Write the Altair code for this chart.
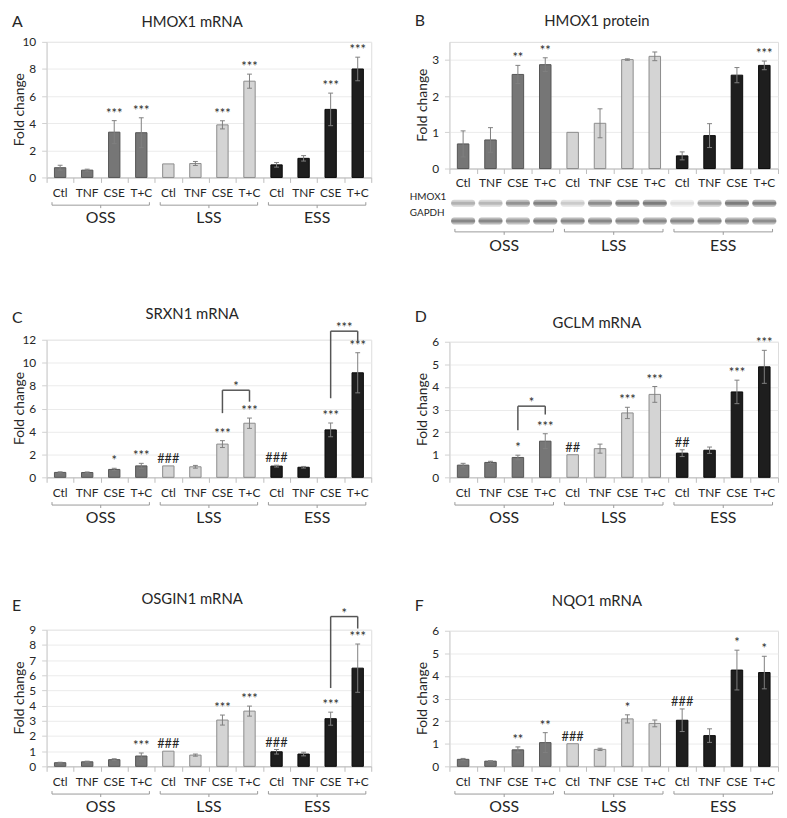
import altair as alt
import pandas as pd

FONT = "Lato"
TXT = "#262626"
ERR = "#808080"
BR = "#9a9a9a"

groups = ["OSS", "LSS", "ESS"]
treatments = ["Ctl", "TNF", "CSE", "T+C"]
group_fill = ["#767676", "#d4d4d4", "#1e1e1e"]
group_stroke = ["#555555", "#8c8c8c", "#0a0a0a"]

# A  HMOX1 mRNA
a_vals = [0.72, 0.54, 3.34, 3.30, 1.00, 1.03, 3.88, 7.10, 0.93, 1.41, 5.02, 8.00]
a_errs = [0.18, 0.07, 0.85, 1.10, 0.00, 0.15, 0.30, 0.52, 0.17, 0.20, 1.20, 0.87]
a_sigs = ["", "", "***", "***", "", "", "***", "***", "", "", "***", "***"]

# B  HMOX1 protein
b_vals = [0.68, 0.79, 2.60, 2.87, 1.00, 1.25, 3.01, 3.10, 0.35, 0.91, 2.58, 2.85]
b_errs = [0.36, 0.34, 0.25, 0.19, 0.00, 0.40, 0.02, 0.12, 0.11, 0.33, 0.21, 0.12]
b_sigs = ["", "", "**", "**", "", "", "", "", "", "", "", "***"]
blot_hmox1 = [0.55, 0.50, 0.80, 0.95, 0.35, 0.85, 1.00, 1.00, 0.20, 0.60, 1.00, 0.95]
blot_gapdh = [0.90, 0.90, 0.80, 0.95, 0.90, 0.90, 0.90, 0.90, 0.90, 0.90, 0.90, 0.85]

# C  SRXN1 mRNA
c_vals = [0.43, 0.42, 0.69, 1.00, 1.00, 0.92, 2.90, 4.72, 0.98, 0.88, 4.14, 9.12]
c_errs = [0.05, 0.05, 0.10, 0.22, 0.00, 0.12, 0.30, 0.45, 0.08, 0.07, 0.60, 1.75]
c_sigs = ["", "", "*", "***", "###", "", "***", "***", "###", "", "***", "***"]
c_brackets = [("LSS", 5.6, 7.6, 6.6, "*"), ("ESS", 6.9, 12.75, 11.8, "***")]

# D  GCLM mRNA
d_vals = [0.54, 0.66, 0.88, 1.60, 1.00, 1.27, 2.85, 3.67, 1.07, 1.20, 3.78, 4.89]
d_errs = [0.08, 0.05, 0.10, 0.33, 0.00, 0.20, 0.25, 0.35, 0.15, 0.14, 0.52, 0.73]
d_sigs = ["", "", "*", "***", "##", "", "***", "***", "##", "", "***", "***"]
d_brackets = [("OSS", 2.08, 3.15, 2.78, "*")]

# E  OSGIN1 mRNA
e_vals = [0.24, 0.30, 0.44, 0.68, 1.00, 0.74, 3.05, 3.64, 0.96, 0.81, 3.14, 6.47]
e_errs = [0.03, 0.04, 0.06, 0.20, 0.00, 0.07, 0.33, 0.33, 0.15, 0.12, 0.43, 1.59]
e_sigs = ["", "", "", "***", "###", "", "***", "***", "###", "", "***", "***"]
e_brackets = [("ESS", 5.16, 9.87, 9.08, "*")]

# F  NQO1 mRNA
f_vals = [0.31, 0.23, 0.73, 1.05, 1.00, 0.75, 2.10, 1.90, 2.04, 1.36, 4.26, 4.15]
f_errs = [0.04, 0.02, 0.13, 0.44, 0.00, 0.05, 0.18, 0.15, 0.50, 0.30, 0.88, 0.72]
f_sigs = ["", "", "**", "**", "###", "", "*", "", "###", "", "*", "*"]


def panel(letter, title, vals, errs, sigs, ymax, yticks, w, h, title_y, letter_y,
          brackets=None, blot=None):
    df = pd.DataFrame({
        "i": list(range(12)),
        "group": [g for g in groups for _ in treatments],
        "treat": treatments * 3,
        "value": vals,
        "err": errs,
        "sig": sigs,
    })
    xs = alt.Scale(domain=[0, 12], nice=False, zero=False)
    ys = alt.Scale(domain=[0, ymax], nice=False, zero=True)
    yaxis = alt.Axis(
        values=yticks, grid=True, gridColor="#ebebeb", domain=True, domainColor="#d0d0d0",
        ticks=True, tickColor="#d0d0d0", tickSize=5, labels=True, labelPadding=6,
        labelFontSize=12, labelColor=TXT, labelFont=FONT, title="")
    xaxis = alt.Axis(
        values=list(range(13)), labels=False, ticks=True, tickSize=5,
        tickColor="#bdbdbd", domainColor="#bdbdbd", grid=False, title="")
    X = lambda f: alt.X(f, scale=xs, axis=xaxis)
    Y = lambda f: alt.Y(f, scale=ys, axis=yaxis)

    base = alt.Chart(df).transform_calculate(
        x0="datum.i + 0.29", x1="datum.i + 0.71", xc="datum.i + 0.5",
        c0="datum.i + 0.41", c1="datum.i + 0.59",
        lo="datum.value - datum.err", hi="datum.value + datum.err", zero="0",
    )

    bars = base.mark_rect(strokeWidth=1).encode(
        x=X("x0:Q"), x2="x1:Q", y=Y("value:Q"), y2="zero:Q",
        fill=alt.Fill("group:N", scale=alt.Scale(domain=groups, range=group_fill), legend=None),
        stroke=alt.Stroke("group:N", scale=alt.Scale(domain=groups, range=group_stroke), legend=None),
    )
    eb = base.transform_filter("datum.err > 0")
    err_v = eb.mark_rule(color=ERR, strokeWidth=1).encode(x=X("xc:Q"), y=Y("lo:Q"), y2="hi:Q")
    cap_hi = eb.mark_rule(color=ERR, strokeWidth=1).encode(x=X("c0:Q"), x2="c1:Q", y=Y("hi:Q"))
    cap_lo = eb.mark_rule(color=ERR, strokeWidth=1).encode(x=X("c0:Q"), x2="c1:Q", y=Y("lo:Q"))
    sig = base.transform_filter("datum.sig != ''").mark_text(
        font=FONT, fontSize=13, baseline="alphabetic", dy=-3, color=TXT
    ).encode(x=X("xc:Q"), y=Y("hi:Q"), text="sig:N")

    cat_dy = 15 if blot else 16
    br_dy = 64 if blot else 28
    gl_dy = 78 if blot else 41
    cats = base.mark_text(font=FONT, fontSize=12, color=TXT, baseline="middle").encode(
        x=X("xc:Q"), y=alt.value(h + cat_dy), text="treat:N")

    gdf = pd.DataFrame({"g": groups, "k": [0, 1, 2]})
    gb = alt.Chart(gdf).transform_calculate(
        b0="datum.k * 4 + 0.2", b1="datum.k * 4 + 3.8", bc="datum.k * 4 + 2")
    brace_h = gb.mark_rule(color=BR).encode(x=X("b0:Q"), x2="b1:Q", y=alt.value(h + br_dy))
    brace_l = gb.mark_rule(color=BR).encode(x=X("b0:Q"), y=alt.value(h + br_dy - 3), y2=alt.value(h + br_dy))
    brace_r = gb.mark_rule(color=BR).encode(x=X("b1:Q"), y=alt.value(h + br_dy - 3), y2=alt.value(h + br_dy))
    brace_c = gb.mark_rule(color=BR).encode(x=X("bc:Q"), y=alt.value(h + br_dy), y2=alt.value(h + br_dy + 3))
    glab = gb.mark_text(font=FONT, fontSize=16, color=TXT, baseline="middle").encode(
        x=X("bc:Q"), y=alt.value(h + gl_dy), text="g:N")

    ttl = alt.Chart(pd.DataFrame({"t": [title]})).mark_text(
        font=FONT, fontSize=15, color=TXT, baseline="middle").encode(
        x=alt.value(w / 2 - 17), y=alt.value(-title_y), text="t:N")
    let = alt.Chart(pd.DataFrame({"t": [letter]})).mark_text(
        font=FONT, fontSize=16, color=TXT, baseline="middle", align="left").encode(
        x=alt.value(-35), y=alt.value(-letter_y), text="t:N")
    ytl = alt.Chart(pd.DataFrame({"t": ["Fold change"]})).mark_text(
        font=FONT, fontSize=14, color=TXT, baseline="middle", angle=270).encode(
        x=alt.value(-27), y=alt.value(h / 2), text="t:N")

    layers = [bars, err_v, cap_hi, cap_lo, sig, cats, brace_h, brace_l, brace_r, brace_c,
              glab, ttl, let, ytl]

    if brackets:
        rows = []
        for g, yl, yt, yr, lab in brackets:
            k = groups.index(g)
            li = k * 4 + treatments.index("CSE")
            ri = k * 4 + treatments.index("T+C")
            rows += [
                {"xa": li, "xb": li, "ya": yl, "yb": yt, "lab": ""},
                {"xa": li, "xb": ri, "ya": yt, "yb": yt, "lab": lab},
                {"xa": ri, "xb": ri, "ya": yr, "yb": yt, "lab": ""},
            ]
        bdf = pd.DataFrame(rows)
        bb = alt.Chart(bdf).transform_calculate(
            xa2="datum.xa + 0.5", xb2="datum.xb + 0.5", xm="(datum.xa + datum.xb) / 2 + 0.5")
        layers.append(bb.mark_rule(color="#555555", strokeWidth=1.5).encode(
            x=X("xa2:Q"), x2="xb2:Q", y=Y("ya:Q"), y2="yb:Q"))
        layers.append(bb.transform_filter("datum.lab != ''").mark_text(
            font=FONT, fontSize=13, color=TXT, baseline="alphabetic", dy=1).encode(
            x=X("xm:Q"), y=Y("yb:Q"), text="lab:N"))

    if blot:
        hm, gp = blot
        bl = alt.Chart(pd.DataFrame({"i": list(range(12)), "hm": hm, "gp": gp})).transform_calculate(
            b0="datum.i + 0.06", b1="datum.i + 0.94")
        for fld, yc in (("hm", h + 35), ("gp", h + 53)):
            layers.append(bl.mark_rect(cornerRadius=3, color="#000000").encode(
                x=X("b0:Q"), x2="b1:Q", y=alt.value(yc - 3.5), y2=alt.value(yc + 3.5),
                opacity=alt.Opacity(f"{fld}:Q", scale=alt.Scale(domain=[0, 1], range=[0, 0.3]), legend=None)))
            layers.append(bl.mark_rect(cornerRadius=1.5, color="#000000").encode(
                x=X("b0:Q"), x2="b1:Q", y=alt.value(yc - 1.5), y2=alt.value(yc + 1.5),
                opacity=alt.Opacity(f"{fld}:Q", scale=alt.Scale(domain=[0, 1], range=[0, 0.95]), legend=None)))
        for lab, yc in (("HMOX1", h + 29), ("GAPDH", h + 45)):
            layers.append(alt.Chart(pd.DataFrame({"t": [lab]})).mark_text(
                font=FONT, fontSize=10, color=TXT, baseline="middle", align="left").encode(
                x=alt.value(-40), y=alt.value(yc), text="t:N"))

    return alt.layer(*layers).properties(width=w, height=h)


A = panel("A", "HMOX1 mRNA", a_vals, a_errs, a_sigs, 10, [0, 2, 4, 6, 8, 10], 328, 137, 20, 20)
B = panel("B", "HMOX1 protein", b_vals, b_errs, b_sigs, 3.5, [0, 1, 2, 3], 332, 128, 21, 21,
          blot=(blot_hmox1, blot_gapdh))
C = panel("C", "SRXN1 mRNA", c_vals, c_errs, c_sigs, 12, [0, 2, 4, 6, 8, 10, 12], 328, 139, 26, 22,
          brackets=c_brackets)
D = panel("D", "GCLM mRNA", d_vals, d_errs, d_sigs, 6, [0, 1, 2, 3, 4, 5, 6], 332, 137, 19, 25,
          brackets=d_brackets)
E = panel("E", "OSGIN1 mRNA", e_vals, e_errs, e_sigs, 9, list(range(10)), 328, 138, 31, 24,
          brackets=e_brackets)
F = panel("F", "NQO1 mRNA", f_vals, f_errs, f_sigs, 6, [0, 1, 2, 3, 4, 5, 6], 332, 137, 30, 25)

left = alt.vconcat(alt.vconcat(A, C, spacing=80), E, spacing=65)
right = alt.vconcat(alt.vconcat(B, D, spacing=54), F, spacing=67)

chart = alt.hconcat(left, right, spacing=37).properties(
    padding={"left": 3, "top": 0, "right": 0, "bottom": 0}
).configure_view(stroke=None).configure(font=FONT)

chart.save("out.html", embed_options={"renderer": "svg", "actions": False})
